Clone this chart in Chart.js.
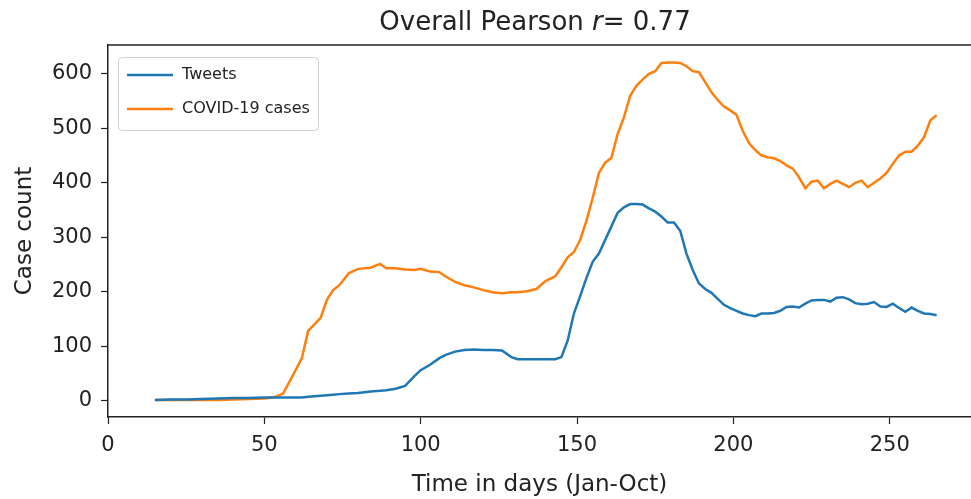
<!DOCTYPE html>
<html>
<head>
<meta charset="utf-8">
<script src="https://cdn.jsdelivr.net/npm/chart.js@4/dist/chart.umd.min.js"></script>
<style>
  html, body { margin: 0; padding: 0; background: #fff; }
  #wrap { width: 971px; height: 499px; }
</style>
</head>
<body>
<div id="wrap"><canvas id="chart" width="971" height="499"></canvas></div>
<script>
// days (Jan-Oct) sampled from the curves
var days = [15, 20, 25, 30, 35, 40, 45, 50, 53, 56, 59, 62, 64, 66, 68, 70, 72, 74, 77, 80,
  84, 87, 89, 92, 95, 98, 100, 103, 106, 108, 111, 114, 117, 120, 123, 126, 129, 131, 134, 137,
  140, 143, 145, 147, 149, 151, 153, 155, 157, 159, 161, 163, 165, 167, 169, 171, 173, 175, 177, 179,
  181, 183, 185, 187, 189, 191, 193, 195, 197, 199, 201, 203, 205, 207, 209, 211, 213, 215, 217, 219,
  221, 223, 225, 227, 229, 231, 233, 235, 237, 239, 241, 243, 245, 247, 249, 251, 253, 255, 257, 259,
  261, 263, 265];

var tweets = [1, 2, 2, 3, 4, 5, 5, 6, 6, 6, 6, 6, 7, 8, 9, 10, 11, 12, 13, 14,
  17, 18, 19, 22, 27, 45, 56, 66, 78, 84, 90, 93, 94, 93, 93, 92, 80, 76, 76, 76,
  76, 76, 80, 110, 160, 192, 225, 255, 270, 295, 320, 345, 355, 361, 361, 360, 353, 347, 338, 327,
  327, 312, 270, 240, 215, 205, 198, 187, 176, 170, 165, 160, 157, 155, 160, 160, 161, 165, 172, 173,
  171, 178, 184, 185, 185, 182, 189, 190, 186, 179, 177, 178, 181, 173, 172, 178, 170, 163, 171, 165,
  160, 159, 157];

var cases = [1, 1, 1, 1, 1, 2, 3, 4, 6, 13, 45, 78, 128, 140, 152, 185, 203, 212, 234, 242,
  244, 251, 243, 243, 241, 240, 242, 237, 236, 228, 218, 212, 208, 203, 199, 197, 199, 199, 201, 205,
  220, 228, 245, 263, 273, 295, 330, 372, 418, 437, 446, 490, 520, 560, 578, 590, 600, 605, 620, 621,
  621, 620, 614, 605, 603, 585, 566, 552, 540, 533, 525, 495, 473, 460, 450, 447, 445, 440, 432, 426,
  410, 390, 402, 404, 390, 398, 404, 398, 392, 400, 404, 392, 400, 408, 418, 435, 450, 457, 457, 468,
  484, 515, 524];

var xTicks = [0, 50, 100, 150, 200, 250];
var yTicks = [0, 100, 200, 300, 400, 500, 600];

var FONT = "'DejaVu Sans', sans-serif";

function pts(vals) {
  return days.map(function (d, i) { return { x: d, y: vals[i] }; });
}

// titulo con la r en cursiva
var titlePlugin = {
  id: 'titulo',
  afterDraw: function (chart) {
    var ctx = chart.ctx;
    var parts = [
      { t: 'Overall Pearson ', f: 'normal 26px ' + FONT },
      { t: 'r', f: 'italic 26px ' + FONT },
      { t: '= 0.77', f: 'normal 26px ' + FONT }
    ];
    ctx.save();
    var total = 0;
    parts.forEach(function (p) { ctx.font = p.f; p.w = ctx.measureText(p.t).width; total += p.w; });
    var x = 535 - total / 2;
    ctx.fillStyle = '#222';
    ctx.textBaseline = 'middle';
    parts.forEach(function (p) { ctx.font = p.f; ctx.fillText(p.t, x, 23); x += p.w; });
    ctx.restore();
  }
};

// marco superior + leyenda dentro del area
var framePlugin = {
  id: 'marco',
  afterDraw: function (chart) {
    var ctx = chart.ctx, a = chart.chartArea;
    ctx.save();
    ctx.strokeStyle = '#222';
    ctx.lineWidth = 1.5;
    ctx.beginPath();
    ctx.moveTo(a.left, a.top);
    ctx.lineTo(a.right, a.top);
    ctx.stroke();

    // leyenda
    ctx.beginPath();
    ctx.roundRect(118.5, 57.5, 200, 73, 4);
    ctx.fillStyle = 'rgba(255,255,255,0.8)';
    ctx.fill();
    ctx.strokeStyle = '#d0d0d0';
    ctx.lineWidth = 1;
    ctx.stroke();
    var rows = [75, 109];
    chart.data.datasets.forEach(function (ds, i) {
      ctx.strokeStyle = ds.borderColor;
      ctx.lineWidth = 2.5;
      ctx.beginPath();
      ctx.moveTo(127, rows[i]);
      ctx.lineTo(173, rows[i]);
      ctx.stroke();
      ctx.fillStyle = '#222';
      ctx.font = '16px ' + FONT;
      ctx.textBaseline = 'middle';
      ctx.fillText(ds.label, 182, rows[i]);
    });
    ctx.restore();
  }
};

new Chart(document.getElementById('chart'), {
  type: 'line',
  data: {
    datasets: [{
      label: 'Tweets',
      data: pts(tweets),
      borderColor: '#1f77b4',
      borderWidth: 2.5,
      pointRadius: 0,
      tension: 0,
      fill: false
    }, {
      label: 'COVID-19 cases',
      data: pts(cases),
      borderColor: '#ff7f0e',
      borderWidth: 2.5,
      pointRadius: 0,
      tension: 0,
      fill: false
    }]
  },
  options: {
    responsive: false,
    animation: false,
    layout: { padding: { top: 45, right: 0, left: 0, bottom: 0 } },
    plugins: {
      legend: { display: false },
      title: { display: false },
      tooltip: { enabled: false }
    },
    scales: {
      x: {
        type: 'linear',
        min: 0,
        max: 276,
        afterBuildTicks: function (s) { s.ticks = xTicks.map(function (v) { return { value: v }; }); },
        afterFit: function (s) { s.height = 82; },
        grid: { drawOnChartArea: false, tickLength: 7, color: '#222', tickWidth: 1.2 },
        border: { color: '#222', width: 1.5 },
        ticks: { color: '#222', font: { family: FONT, size: 21 }, padding: 9, maxRotation: 0 },
        title: { display: true, text: 'Time in days (Jan-Oct)', color: '#222', font: { family: FONT, size: 23 }, padding: { top: 4, bottom: 0 } }
      },
      y: {
        min: -30,
        max: 653,
        afterBuildTicks: function (s) { s.ticks = yTicks.map(function (v) { return { value: v }; }); },
        afterFit: function (s) { s.width = 108; },
        grid: { drawOnChartArea: false, tickLength: 7, color: '#222', tickWidth: 1.2 },
        border: { color: '#222', width: 1.5 },
        ticks: { color: '#222', font: { family: FONT, size: 21 }, padding: 9 },
        title: { display: true, text: 'Case count', color: '#222', font: { family: FONT, size: 23 }, padding: { top: 11, bottom: 0 } }
      }
    }
  },
  plugins: [titlePlugin, framePlugin]
});
</script>
</body>
</html>
